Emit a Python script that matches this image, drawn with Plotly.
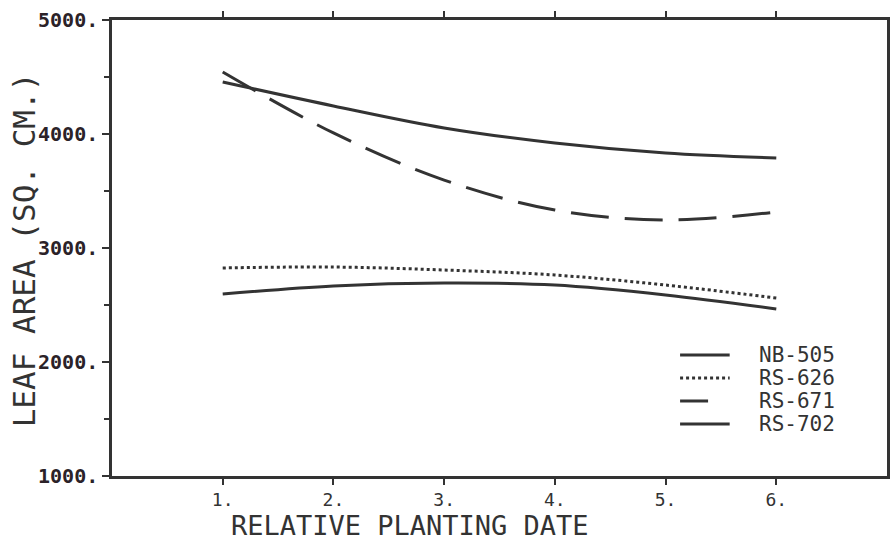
import plotly.graph_objects as go

# Data
dates = [1, 2, 3, 4, 5, 6]
nb505 = [4456, 4246, 4053, 3921, 3833, 3789]
rs626 = [2825, 2833, 2807, 2763, 2675, 2561]
rs671 = [4544, 4009, 3596, 3333, 3246, 3316]
rs702 = [2596, 2667, 2693, 2675, 2588, 2465]

series_names = ["NB-505", "RS-626", "RS-671", "RS-702"]
x_ticks = [1, 2, 3, 4, 5, 6]
x_ticktext = ["1.", "2.", "3.", "4.", "5.", "6."]
y_ticks = [1000, 2000, 3000, 4000, 5000]
y_ticktext = ["1000.", "2000.", "3000.", "4000.", "5000."]

INK = "#333333"
MONO = "DejaVu Sans Mono"
DASHES = ["solid", "3px,3px", "38px,16px", "solid"]

fig = go.Figure()
for name, vals, dash in zip(series_names, [nb505, rs626, rs671, rs702], DASHES):
    fig.add_trace(go.Scatter(
        x=dates, y=vals, name=name, mode="lines", showlegend=False,
        line=dict(color=INK, width=3, dash=dash, shape="spline", smoothing=1.0),
    ))

# Hand-placed legend (samples + real text), lower right inside the frame
legend_rows_y = [0.2654, 0.2149, 0.1645, 0.114]
legend_dash = ["solid", "3px,3px", "28px,40px", "solid"]
for name, yy, dash in zip(series_names, legend_rows_y, legend_dash):
    fig.add_shape(type="line", xref="paper", yref="paper",
                  x0=0.733, x1=0.797, y0=yy, y1=yy,
                  line=dict(color=INK, width=3, dash=dash))
    fig.add_annotation(xref="paper", yref="paper", x=0.832, y=yy,
                       xanchor="left", yanchor="middle", showarrow=False,
                       text=name, font=dict(family=MONO, size=21, color=INK))

# Axis titles
fig.add_annotation(xref="paper", yref="paper", x=0.384, y=-0.1075,
                   xanchor="center", yanchor="middle", showarrow=False,
                   text="RELATIVE PLANTING DATE",
                   font=dict(family=MONO, size=27, color=INK))
fig.add_annotation(xref="paper", yref="paper", x=-0.1135, y=0.495,
                   xanchor="center", yanchor="middle", showarrow=False,
                   textangle=-90, text="LEAF AREA (SQ. CM.)",
                   font=dict(family=MONO, size=31, color=INK))

fig.update_layout(
    width=890, height=543,
    margin=dict(l=112, r=3, t=20, b=67, autoexpand=False),
    paper_bgcolor="white", plot_bgcolor="white",
    showlegend=False,
    xaxis=dict(
        range=[0, 7], tickvals=x_ticks, ticktext=x_ticktext,
        ticks="outside", ticklen=6, tickwidth=2, tickcolor=INK,
        showline=True, linewidth=2.5, linecolor=INK, mirror="ticks",
        showgrid=False, zeroline=False, automargin=False,
        tickfont=dict(family=MONO, size=18, color=INK),
    ),
    yaxis=dict(
        range=[1000, 5000], tickvals=y_ticks, ticktext=y_ticktext,
        ticks="outside", ticklen=7, tickwidth=2, tickcolor=INK,
        minor=dict(tickvals=[1500, 2500, 3500, 4500], ticks="outside",
                   ticklen=5, tickwidth=2, tickcolor=INK),
        showline=True, linewidth=2.5, linecolor=INK, mirror=True,
        showgrid=False, zeroline=False, automargin=False,
        tickfont=dict(family=MONO, size=20, color="#2b2228", weight="bold"),
    ),
)

fig.write_html(
    "out.html",
    config={"responsive": False, "displayModeBar": False},
    post_script="document.body.style.margin='0px';document.body.style.overflow='hidden';",
)
